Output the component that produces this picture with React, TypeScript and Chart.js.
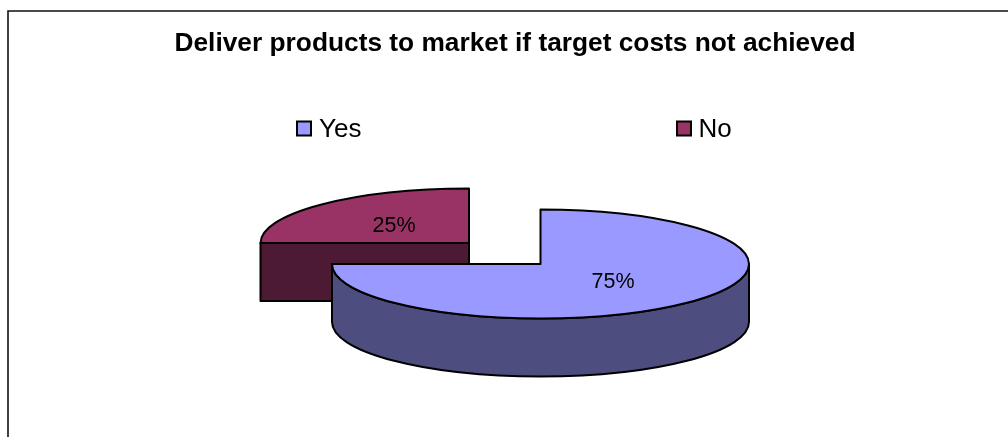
import React, { useEffect, useRef } from "react";
import { Chart, registerables } from "chart.js";

Chart.register(...registerables);

const titleText = "Deliver products to market if target costs not achieved";
const categories = ["Yes", "No"];
const shares = [75, 25];
const topColors = ["#9999ff", "#993366"];
const wallColors = ["#4d4d80", "#4d1a33"];

// Projected placement of each exploded wedge on the canvas.
const sliceCentres = [
  { x: 540.5, y: 264 },
  { x: 469, y: 243 },
];
const RADIUS_X = 208.5;
const RADIUS_Y = 54.5;
const DEPTH = 58;
const OUTLINE = 2;
const SANS = "'Liberation Sans', Arial, sans-serif";

const legendSlots = [
  { boxX: 297, textX: 319 },
  { boxX: 677, textX: 698.5 },
];
const LEGEND_Y = 128.5;
const LEGEND_BOX = 14;
const labelCentres = [
  { x: 613, y: 282 },
  { x: 394, y: 226 },
];

// Traces the lit top of a wedge in canvas coordinates.
function topPath(ctx: CanvasRenderingContext2D, c: { x: number; y: number }, start: number, end: number) {
  ctx.beginPath();
  ctx.moveTo(c.x, c.y);
  ctx.ellipse(c.x, c.y, RADIUS_X, RADIUS_Y, 0, start, end);
  ctx.closePath();
}

// Draws the extruded faces of a wedge: the rim below the horizon and any cut face turned to the viewer.
function drawWalls(ctx: CanvasRenderingContext2D, c: { x: number; y: number }, start: number, end: number, color: string) {
  ctx.fillStyle = color;
  const paint = () => {
    ctx.fill();
    ctx.stroke();
  };
  const cutFace = (angle: number) => {
    const px = c.x + RADIUS_X * Math.cos(angle);
    const py = c.y + RADIUS_Y * Math.sin(angle);
    ctx.beginPath();
    ctx.moveTo(c.x, c.y);
    ctx.lineTo(px, py);
    ctx.lineTo(px, py + DEPTH);
    ctx.lineTo(c.x, c.y + DEPTH);
    ctx.closePath();
    paint();
  };
  if (Math.cos(start) < -1e-6) cutFace(start);
  if (Math.cos(end) > 1e-6) cutFace(end);
  const rimStart = Math.max(start, 0);
  const rimEnd = Math.min(end, Math.PI);
  if (rimEnd > rimStart) {
    ctx.beginPath();
    ctx.ellipse(c.x, c.y, RADIUS_X, RADIUS_Y, 0, rimStart, rimEnd);
    ctx.ellipse(c.x, c.y + DEPTH, RADIUS_X, RADIUS_Y, 0, rimEnd, rimStart, true);
    ctx.closePath();
    paint();
  }
}

const tiltedPie = {
  id: "tiltedPie",
  // The flat pie is replaced by its tilted, extruded projection.
  beforeDatasetsDraw(chart: any) {
    const ctx: CanvasRenderingContext2D = chart.ctx;
    const arcs = chart.getDatasetMeta(0).data;
    const total = shares.reduce((a, b) => a + b, 0);
    ctx.save();
    ctx.lineJoin = "round";
    ctx.lineWidth = OUTLINE;
    ctx.strokeStyle = "#000000";
    // Back wedge first so the nearer one overlaps it.
    for (let i = arcs.length - 1; i >= 0; i--) {
      const arc = arcs[i];
      const c = sliceCentres[i];
      const { startAngle, endAngle, outerRadius, x, y } = arc.getProps(
        ["startAngle", "endAngle", "outerRadius", "x", "y"],
        true
      );
      drawWalls(ctx, c, startAngle, endAngle, wallColors[i]);

      ctx.save();
      ctx.translate(c.x, c.y);
      ctx.scale(RADIUS_X / outerRadius, RADIUS_Y / outerRadius);
      ctx.translate(-x, -y);
      arc.draw(ctx);
      ctx.restore();

      topPath(ctx, c, startAngle, endAngle);
      ctx.stroke();
    }
    ctx.fillStyle = "#000000";
    ctx.font = `21.5px ${SANS}`;
    ctx.textAlign = "center";
    ctx.textBaseline = "middle";
    shares.forEach((v, i) => {
      ctx.fillText(`${Math.round((v / total) * 100)}%`, labelCentres[i].x, labelCentres[i].y);
    });
    ctx.restore();
    return false;
  },
};

const frameAndKey = {
  id: "frameAndKey",
  beforeDraw(chart: any) {
    const ctx: CanvasRenderingContext2D = chart.ctx;
    ctx.save();
    ctx.strokeStyle = "#111111";
    ctx.lineWidth = 1.6;
    ctx.beginPath();
    ctx.moveTo(8, chart.height);
    ctx.lineTo(8, 11);
    ctx.lineTo(chart.width, 11);
    ctx.stroke();
    ctx.restore();
  },
  afterDraw(chart: any) {
    const ctx: CanvasRenderingContext2D = chart.ctx;
    ctx.save();
    ctx.font = `26px ${SANS}`;
    ctx.textAlign = "left";
    ctx.textBaseline = "middle";
    categories.forEach((name, i) => {
      const slot = legendSlots[i];
      ctx.fillStyle = topColors[i];
      ctx.strokeStyle = "#000000";
      ctx.lineWidth = OUTLINE;
      ctx.fillRect(slot.boxX, LEGEND_Y - LEGEND_BOX / 2, LEGEND_BOX, LEGEND_BOX);
      ctx.strokeRect(slot.boxX, LEGEND_Y - LEGEND_BOX / 2, LEGEND_BOX, LEGEND_BOX);
      ctx.fillStyle = "#000000";
      ctx.fillText(name, slot.textX, LEGEND_Y + 1);
    });
    ctx.restore();
  },
};

export default function App() {
  const canvasRef = useRef<HTMLCanvasElement | null>(null);

  useEffect(() => {
    const chart = new Chart(canvasRef.current as HTMLCanvasElement, {
      type: "pie",
      data: {
        labels: categories,
        datasets: [{ data: shares, backgroundColor: topColors, borderWidth: 0 }],
      },
      options: {
        responsive: false,
        animation: false,
        layout: { padding: { left: 22 } },
        plugins: {
          legend: { display: false },
          tooltip: { enabled: false },
          title: {
            display: true,
            text: titleText,
            color: "#000000",
            font: { family: SANS, size: 26.3, weight: "bold" },
            padding: { top: 28, bottom: 10 },
          },
        },
      },
      plugins: [tiltedPie, frameAndKey],
    } as any);
    return () => chart.destroy();
  }, []);

  return (
    <canvas
      ref={canvasRef}
      width={1008}
      height={437}
      style={{ position: "fixed", left: 0, top: 0, width: 1008, height: 437, display: "block" }}
    />
  );
}
